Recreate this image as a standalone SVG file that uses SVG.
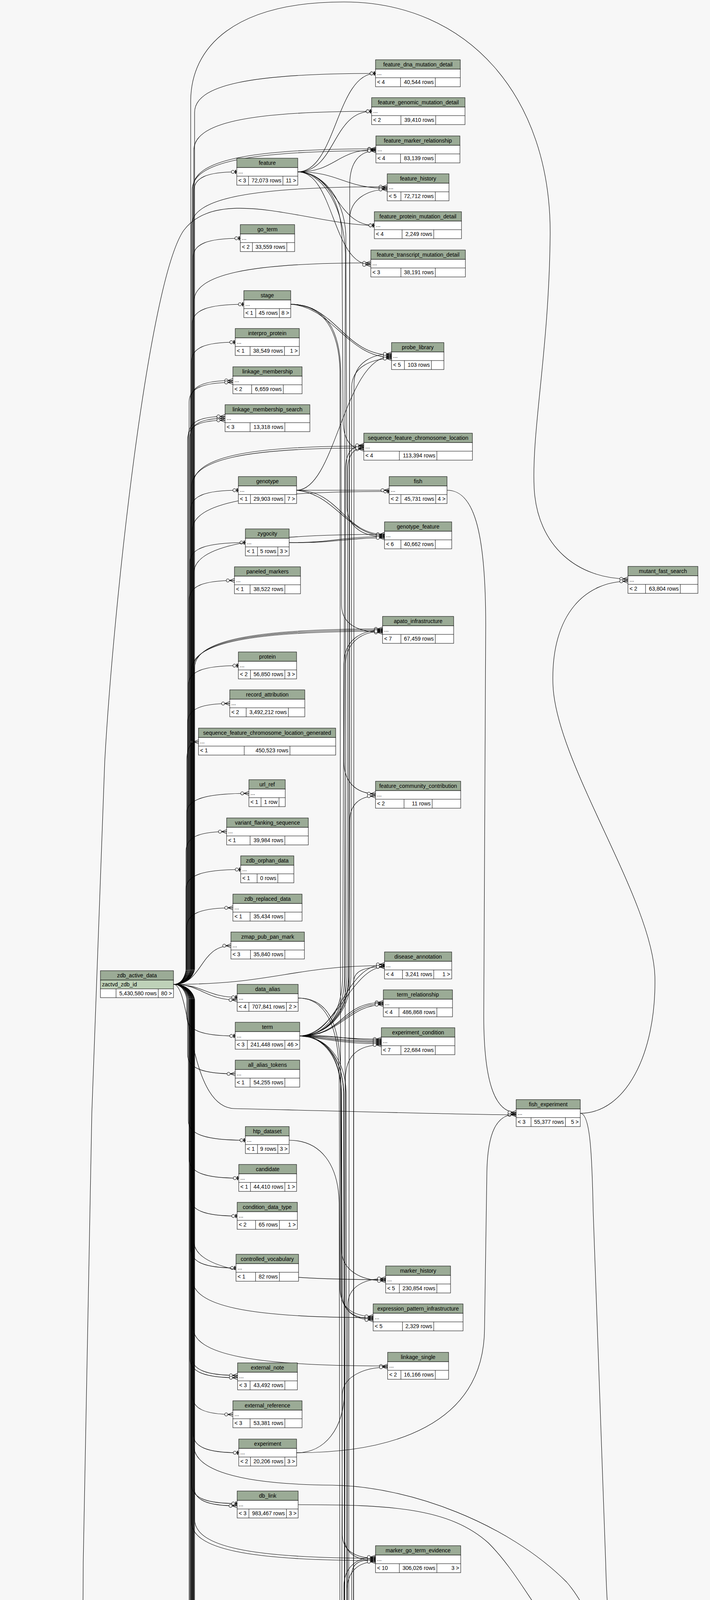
<svg xmlns="http://www.w3.org/2000/svg" width="1817" height="7109" viewBox="0 0 1817 7109">
<style>
text{font-family:"Liberation Sans",Arial,Helvetica,sans-serif;font-size:14px;fill:#000}
.c{text-anchor:middle}
.e{text-anchor:end}
.h{fill:#9bab96;stroke:#000;stroke-width:1}
.b{fill:#fff;stroke:#000;stroke-width:1}
.k{fill:#bed1b8;stroke:#000;stroke-width:1}
.x{fill:#f4f7da;stroke:#000;stroke-width:1}
.s{fill:none;stroke:#000;stroke-width:1}
#connectors path{fill:none;stroke:#000;stroke-width:1.1}
#connectors .m{marker-end:url(#mm)}
#connectors .o{marker-end:url(#mo)}
</style>
<defs>
<marker id="mm" viewBox="-22 -8 24 16" refX="0" refY="0" markerWidth="24" markerHeight="16" markerUnits="userSpaceOnUse" orient="auto"><circle cx="-17" cy="0" r="4" fill="#f7f7f7" stroke="#000" stroke-width="1.1"/><path d="M-13,0L0,-5M-13,0H0M-13,0L0,5" fill="none" stroke="#000" stroke-width="1.1"/></marker>
<marker id="mo" viewBox="-16 -8 18 16" refX="0" refY="0" markerWidth="18" markerHeight="16" markerUnits="userSpaceOnUse" orient="auto"><circle cx="-10" cy="0" r="4" fill="#f7f7f7" stroke="#000" stroke-width="1.1"/><path d="M-6,0H0" stroke="#000" stroke-width="1.1"/><path d="M-3,-5V5" stroke="#000" stroke-width="2.6"/></marker>
</defs>
<rect width="1817" height="7109" fill="#f7f7f7"/>
<g id="connectors">
<path class="o" d="M444,2520c42,0 52,-32 52,-40V490c0,-35 33,-50 110,-50"/>
<path class="o" d="M444,2520c40,0 50,-32 50,-40V660c0,-35 36,-50 121,-50"/>
<path class="o" d="M444,2520c38,0 48,-32 48,-40V829c0,-35 40,-50 132,-50"/>
<path class="o" d="M444,2520c37,0 46,-32 46,-40V926c0,-35 34,-50 112,-50"/>
<path class="m" d="M444,2520c35,0 44,-32 44,-40V1024c0,-35 32,-50 108,-50"/>
<path class="m" d="M444,2520c32,0 40,-32 40,-40V1029c0,-35 34,-50 112,-50"/>
<path class="m" d="M444,2520c34,0 42,-32 42,-40V1121c0,-35 27,-50 90,-50"/>
<path class="m" d="M444,2520c30,0 38,-32 38,-40V1116c0,-35 28,-50 94,-50"/>
<path class="m" d="M444,2520c29,0 36,-32 36,-40V1126c0,-35 29,-50 96,-50"/>
<path class="o" d="M444,2520c35,0 44,-32 44,-40V1305c0,-35 37,-50 122,-50"/>
<path class="o" d="M444,2520c34,0 42,-32 42,-40V1439c0,-35 43,-50 142,-50"/>
<path class="m" d="M444,2520c32,0 40,-32 40,-40V1536c0,-35 35,-50 116,-50"/>
<path class="o" d="M444,2520c30,0 38,-32 38,-40V1754c0,-35 38,-50 128,-50"/>
<path class="m" d="M444,2520c29,0 36,-32 36,-40V1851c0,-35 32,-50 108,-50"/>
<path class="m" d="M444,2520c27,0 34,-32 34,-40V1949c0,-35 9,-50 30,-50"/>
<path class="m" d="M444,2520c27,0 34,-32 34,-40V2081c0,-35 48,-50 159,-50"/>
<path class="m" d="M444,2520c26,0 32,-32 32,-40V2179c0,-35 31,-50 104,-50"/>
<path class="o" d="M444,2520c26,0 32,-32 32,-40V2276c0,-35 42,-50 140,-50"/>
<path class="m" d="M444,2520c27,0 34,-32 34,-40V2374c0,-35 35,-50 118,-50"/>
<path class="m" d="M444,2520C520,2520 510,2421 591,2421"/>
<path class="o" d="M444,2520C520,2520 530,2553 607,2553"/>
<path class="m" d="M444,2520C515,2520 525,2560 607,2560"/>
<path class="o" d="M444,2520c27,0 34,32 34,40V2602c0,35 37,50 124,50"/>
<path class="m" d="M444,2520c29,0 36,32 36,40V2699c0,35 37,50 122,50"/>
<path class="o" d="M444,2520c30,0 38,32 38,40V2869c0,35 44,50 146,50"/>
<path class="o" d="M444,2520c32,0 40,32 40,40V2966c0,35 38,50 127,50"/>
<path class="o" d="M444,2520c34,0 42,32 42,40V3063c0,35 36,50 121,50"/>
<path class="o" d="M444,2520c35,0 44,32 44,40V3196c0,35 35,50 116,50"/>
<path class="m" d="M444,2520c37,0 46,32 46,40V3471c0,35 35,50 118,50"/>
<path class="m" d="M444,2520c34,0 42,32 42,40V3477c0,35 37,50 122,50"/>
<path class="m" d="M444,2520c38,0 48,32 48,40V3571c0,35 31,50 104,50"/>
<path class="o" d="M444,2520c40,0 50,32 50,40V3669c0,35 35,50 117,50"/>
<path class="o" d="M444,2520c37,0 46,32 46,40V3799c0,35 35,50 117,50"/>
<path class="m" d="M444,2520c42,0 52,32 52,40V3805c0,35 33,50 111,50"/>
<path class="m" d="M444,2520c38,0 48,32 48,40V4115c0,35 32,50 107,50"/>
<path class="m" d="M444,2520c35,0 44,32 44,40V4213c0,35 34,50 114,50"/>
<path class="m" d="M444,2520c40,0 50,32 50,40V4307c0,35 37,50 122,50"/>
<path class="m" d="M444,2520c37,0 46,32 46,40V4407c0,35 33,50 110,50"/>
<path class="o" d="M444,2520c34,0 42,32 42,40V4502c0,35 38,50 125,50"/>
<path class="o" d="M444,2520c42,0 52,32 52,40V4599c0,35 33,50 111,50"/>
<path class="o" d="M444,2520c32,0 40,32 40,40V4696c0,35 38,50 127,50"/>
<path class="o" d="M444,2520c38,0 48,32 48,40V5015c0,35 33,50 110,50"/>
<path class="o" d="M444,2520c35,0 44,32 44,40V5112c0,35 38,50 126,50"/>
<path class="o" d="M444,2520c43,0 54,-32 54,-40V288c0,-70 139,-100 463,-100"/>
<path class="o" d="M444,2520c42,0 52,-32 52,-40V385c0,-70 137,-100 455,-100"/>
<path class="m" d="M444,2520c40,0 50,-32 50,-40V481c0,-70 140,-100 468,-100"/>
<path class="m" d="M444,2520c38,0 48,-32 48,-40V486c0,-70 141,-100 470,-100"/>
<path class="m" d="M444,2520c37,0 46,-32 46,-40V578c0,-70 150,-100 501,-100"/>
<path class="m" d="M444,2520c42,0 52,-32 52,-40V773c0,-70 136,-100 453,-100"/>
<path class="m" d="M444,2520c40,0 50,-32 50,-40V1242c0,-70 131,-100 437,-100"/>
<path class="m" d="M444,2520c37,0 46,-32 46,-40V1247c0,-70 132,-100 441,-100"/>
<path class="o" d="M444,2520c38,0 48,-32 48,-40V1358c0,-70 151,-100 504,-100"/>
<path class="m" d="M444,2520c42,0 52,-32 52,-40V1468c0,-70 146,-100 488,-100"/>
<path class="m" d="M444,2520c43,0 54,-32 54,-40V1710c0,-70 144,-100 481,-100"/>
<path class="m" d="M444,2520c40,0 50,-32 50,-40V1713c0,-70 146,-100 485,-100"/>
<path class="m" d="M444,2520c37,0 46,-32 46,-40V1716c0,-70 147,-100 489,-100"/>
<path class="o" d="M444,2520C700,2520 750,2472 984,2472"/>
<path class="m" d="M444,2520c42,0 52,32 52,40V3176c0,70 147,100 491,100"/>
<path class="m" d="M444,2520c38,0 48,32 48,40V3273c0,70 139,100 463,100"/>
<path class="m" d="M444,2520c40,0 50,32 50,40V3397c0,70 149,100 498,100"/>
<path class="m" d="M444,2520c43,0 54,32 54,40V3889c0,70 139,100 463,100"/>
<path class="m" d="M444,2520c37,0 46,32 46,40V3895c0,70 141,100 471,100"/>
<path class="m" d="M444,2520c42,0 52,32 52,40V4255c0,70 144,100 480,100"/>
<path class="m" d="M444,2520c38,0 48,32 48,40V4449c0,70 150,100 500,100"/>
<path class="m" d="M444,2520c43,0 54,32 54,40V4583c0,70 138,100 459,100"/>
<path class="m" d="M444,2520c40,0 50,32 50,40V4716c0,70 151,100 502,100"/>
<path class="o" d="M444,2520c42,0 52,32 52,40V4814c0,70 129,100 430,100"/>
<path class="m" d="M444,2520c37,0 46,32 46,40V5004c0,70 156,100 519,100"/>
<path class="m" d="M444,2520c36,0 44,-32 44,-40V260C488,120 600,5 880,5C1200,5 1410,250 1408,600C1405,900 1360,1100 1367,1250C1375,1400 1480,1482 1607,1482"/>
<path class="m" d="M444,2520C490,2520 480,2835 600,2838C900,2845 1200,2854 1321,2854"/>
<path class="m" d="M444,2520c42,0 52,32 52,40V3700C496,3760 600,3800 850,3802C1050,3805 1300,3900 1450,4050C1520,4130 1540,4252 1592,4252"/>
<path class="m" d="M192,4815C420,4815 380,4168 599,4168"/>
<path class="m" d="M192,4815C400,4815 380,4460 600,4460"/>
<path class="m" d="M192,4815C400,4815 400,4655 607,4655"/>
<path class="m" d="M192,4815C500,4830 700,4845 850,4835C920,4830 940,4819 996,4819"/>
<path class="o" d="M192,4815C380,4815 420,5372 569,5372"/>
<path class="o" d="M192,4815C228,4815 236,4850 236,4900L236,5250C236,5290 250,5303 281,5303"/>
<path class="o" d="M192,4815C226,4815 232,4850 232,4900L232,6190C232,6225 245,6237 268,6237"/>
<path class="o" d="M192,4815C230,4815 240,4860 240,4900L240,6720C240,6800 400,6850 615,6850"/>
<path class="o" d="M192,4815C226,4815 236,4860 236,4900L236,6830C236,6950 400,7020 620,7020"/>
<path class="o" d="M192,4815C205,4800 210,4600 213,4000L235,2850L268,1950C290,1550 380,720 470,590C560,470 800,577 958,577"/>
<path class="m" d="M192,4815C420,4815 380,5071 602,5071"/>
<path class="m" d="M192,4815C420,4815 400,5168 614,5168"/>
<path class="m" d="M435,6237c28,0 35,-32 35,-40V5990c0,-35 30,-50 99,-50"/>
<path class="m" d="M435,6237C520,6237 520,6271 602,6271"/>
<path class="m" d="M435,6237c36,0 45,32 45,40V6573c0,35 44,50 148,50"/>
<path class="m" d="M435,6237c44,0 55,32 55,40V6567c0,35 41,50 138,50"/>
<path class="m" d="M435,6237c33,0 41,32 41,40V6670c0,35 44,50 147,50"/>
<path class="m" d="M435,6237c47,0 59,32 59,40V6664c0,35 39,50 129,50"/>
<path class="m" d="M435,6237c39,0 49,32 49,40V6797c0,35 39,50 131,50"/>
<path class="m" d="M435,6237c30,0 37,32 37,40V6803c0,35 43,50 143,50"/>
<path class="m" d="M435,6237c42,0 53,32 53,40V6967c0,35 40,50 132,50"/>
<path class="m" d="M435,6237c31,0 39,32 39,40V6973c0,35 44,50 146,50"/>
<path class="o" d="M435,6237c34,0 43,-32 43,-40V4969c0,-35 39,-50 130,-50"/>
<path class="m" d="M435,6237c38,0 47,-32 47,-40V4413c0,-35 40,-50 134,-50"/>
<path class="m" d="M435,6237c41,0 51,-32 51,-40V4608c0,-35 38,-50 125,-50"/>
<path class="m" d="M435,6237c36,0 45,-32 45,-40V4802c0,-35 39,-50 131,-50"/>
<path class="m" d="M435,6237C490,6237 490,6090 560,6090L835,6090c40,0 50,-20 50,-50V5020c0,-42 12,-60 41,-60"/>
<path class="m" d="M435,6237C490,6237 490,6095 560,6095L840,6095c40,0 50,-20 50,-50V4873c0,-42 32,-60 106,-60"/>
<path class="m" d="M435,6237C490,6237 490,6100 560,6100L845,6100c40,0 50,-20 50,-50V4879c0,-42 30,-60 101,-60"/>
<path class="m" d="M435,6237C490,6237 490,6105 560,6105L850,6105c40,0 50,-20 50,-50V5170c0,-42 33,-60 109,-60"/>
<path class="m" d="M435,6237C490,6237 490,6110 560,6110L855,6110c40,0 50,-20 50,-50V5472c0,-42 28,-60 95,-60"/>
<path class="m" d="M435,6237C490,6237 490,6115 560,6115L860,6115c40,0 50,-20 50,-50V5952c0,-42 19,-60 63,-60"/>
<path class="m" d="M435,6237C490,6237 490,6120 560,6120L862,6120c40,0 50,-20 50,-50V5958c0,-42 18,-60 61,-60"/>
<path class="m" d="M435,6237C490,6237 490,6125 560,6125L840,6125C900,6125 910,5993 973,5993"/>
<path class="m" d="M435,6237C490,6237 490,6130 560,6130L840,6130C900,6130 910,6091 972,6091"/>
<path class="m" d="M435,6237C490,6237 490,6160 560,6160L840,6160C890,6160 900,6184 954,6184"/>
<path class="m" d="M435,6237C490,6237 500,6200 580,6200L840,6200C890,6200 900,6190 954,6190"/>
<path class="m" d="M435,6237C480,6237 480,6330 560,6330L840,6330C900,6330 900,6285 954,6285"/>
<path class="m" d="M435,6237C480,6237 480,6360 560,6360L850,6360C920,6360 920,6383 989,6383"/>
<path class="m" d="M435,6237C480,6237 480,6420 560,6420L820,6420C880,6420 880,6480 945,6480"/>
<path class="m" d="M435,6237C480,6237 480,6450 560,6460L800,6500C880,6520 880,6577 954,6577"/>
<path class="m" d="M435,6237C470,6237 470,6500 500,6600C540,6760 700,6790 850,6770C900,6760 910,6725 954,6725"/>
<path class="m" d="M435,6237C520,6237 560,6450 700,6530C850,6620 1000,6650 1100,6650C1200,6650 1230,6642 1281,6642"/>
<path class="m" d="M435,6237C470,6237 480,6500 490,6700C500,6880 600,6930 800,6925C1050,6918 1200,6900 1240,6860C1260,6840 1270,6828 1293,6828"/>
<path class="m" d="M435,6237C470,6237 470,6400 480,6500C500,6700 560,6760 700,6780C850,6800 900,6836 995,6836"/>
<path class="m" d="M435,6237C465,6237 470,6500 475,6800C480,6950 600,6960 800,6965C900,6968 920,7003 987,7003"/>
<path class="m" d="M800,5372c64,0 80,-32 80,-40V5280c0,-28 24,-40 79,-40"/>
<path class="m" d="M800,5372c56,0 70,-32 70,-40V4977c0,-28 17,-40 56,-40"/>
<path class="m" d="M800,5372c68,0 85,-32 85,-40V4856c0,-28 33,-40 111,-40"/>
<path class="m" d="M800,5372c72,0 90,-32 90,-40V5144c0,-28 36,-40 119,-40"/>
<path class="m" d="M800,5372c76,0 95,-32 95,-40V4297c0,-28 27,-40 90,-40"/>
<path class="m" d="M800,5372c80,0 100,-32 100,-40V4032c0,-28 18,-40 61,-40"/>
<path class="m" d="M800,5372c84,0 105,-32 105,-40V2515c0,-28 24,-40 79,-40"/>
<path class="m" d="M800,5372c60,0 74,-32 74,-40V5060C874,5030 900,5050 1200,5045C1260,5040 1270,4995 1316,4995"/>
<path class="m" d="M800,5372C900,5350 1000,5330 1150,5320C1300,5300 1480,5200 1530,5000L1548,4350C1552,4280 1565,4252 1592,4252"/>
<path class="m" d="M800,5372C900,5352 1000,5335 1150,5335C1230,5335 1240,5400 1243,5500L1245,6550C1246,6620 1260,6642 1281,6642"/>
<path class="m" d="M800,5372C900,5372 900,5409 1000,5409"/>
<path class="o" d="M800,5372c48,0 60,32 60,40V5466c0,28 42,40 139,40"/>
<path class="m" d="M800,5372c52,0 65,32 65,40V5563c0,28 37,40 122,40"/>
<path class="m" d="M800,5372c56,0 70,32 70,40V5661c0,28 39,40 129,40"/>
<path class="m" d="M800,5372c60,0 75,32 75,40V5759c0,28 35,40 116,40"/>
<path class="m" d="M800,5372c64,0 80,32 80,40V5855c0,28 28,40 93,40"/>
<path class="m" d="M800,5372c68,0 85,32 85,40V5953c0,28 26,40 88,40"/>
<path class="m" d="M800,5372c72,0 90,32 90,40V6051c0,28 25,40 82,40"/>
<path class="m" d="M800,5372c76,0 95,32 95,40V6147c0,28 18,40 59,40"/>
<path class="m" d="M800,5372c80,0 100,32 100,40V6245c0,28 16,40 54,40"/>
<path class="m" d="M800,5372c84,0 105,32 105,40V6340c0,28 25,40 84,40"/>
<path class="m" d="M800,5372c70,0 88,32 88,40V6440c0,28 17,40 57,40"/>
<path class="m" d="M800,5372c78,0 98,32 98,40V6534c0,28 17,40 56,40"/>
<path class="m" d="M800,5372c82,0 102,32 102,40V6682c0,28 16,40 52,40"/>
<path class="m" d="M421,5303C470,5303 494,5330 494,5400L494,5630C494,5670 520,5688 569,5688"/>
<path class="o" d="M762,440C860,440 860,188 961,188"/>
<path class="o" d="M762,440C860,440 850,285 951,285"/>
<path class="m" d="M762,440C860,440 860,383 962,383"/>
<path class="m" d="M762,440C870,440 880,482 991,482"/>
<path class="o" d="M762,440C860,440 860,577 958,577"/>
<path class="m" d="M762,440C855,440 850,678 949,678"/>
<path class="m" d="M762,440C820,440 880,500 885,600L888,1300C890,1350 930,1374 984,1374"/>
<path class="m" d="M762,440C820,440 880,520 884,650L880,1950C880,2000 910,2032 961,2032"/>
<path class="m" d="M762,440C820,440 870,500 875,600L878,1080C880,1130 900,1150 931,1150"/>
<path class="m" d="M744,779C860,779 880,909 1002,909"/>
<path class="m" d="M744,779C850,785 890,915 1002,915"/>
<path class="m" d="M744,779C830,779 870,840 872,950L874,1550C875,1600 920,1619 979,1619"/>
<path class="m" d="M744,779C830,779 868,850 870,950L872,3300C872,3350 900,3376 955,3376"/>
<path class="m" d="M759,1255C860,1255 880,912 1002,912"/>
<path class="m" d="M759,1255L996,1255"/>
<path class="m" d="M759,1255C870,1255 880,1368 984,1368"/>
<path class="m" d="M759,1255C860,1265 890,1371 984,1371"/>
<path class="m" d="M740,1389C860,1389 870,1374 984,1374"/>
<path class="m" d="M740,1389C860,1391 880,1377 984,1377"/>
<path class="m" d="M763,2555C840,2555 870,2620 872,2750L874,3200C875,3250 920,3279 987,3279"/>
<path class="m" d="M763,2555C830,2555 866,2620 868,2750L870,3300C871,3345 900,3370 955,3370"/>
<path class="m" d="M767,2652C880,2652 870,2566 981,2566"/>
<path class="m" d="M767,2652C880,2650 880,2569 981,2569"/>
<path class="m" d="M767,2652C870,2655 890,2572 981,2572"/>
<path class="m" d="M767,2652C870,2652 870,2660 976,2660"/>
<path class="m" d="M767,2652C870,2648 880,2663 976,2663"/>
<path class="m" d="M767,2652C870,2656 880,2666 976,2666"/>
<path class="m" d="M767,2652C860,2660 890,2669 976,2669"/>
<path class="m" d="M767,2652C860,2664 890,2672 976,2672"/>
<path class="m" d="M767,2652C870,2652 880,2469 984,2469"/>
<path class="m" d="M767,2652C860,2650 900,2475 984,2475"/>
<path class="m" d="M767,2652C830,2652 875,2600 877,2500L880,1700C881,1640 920,1613 979,1613"/>
<path class="m" d="M767,2652C835,2652 880,2600 882,2500L884,1700C885,1645 925,1616 979,1616"/>
<path class="m" d="M767,2652C835,2652 872,2710 874,2800L876,3310C877,3355 905,3379 955,3379"/>
<path class="m" d="M767,2652C830,2652 878,2710 880,2800L882,4480C883,4530 930,4546 992,4546"/>
<path class="m" d="M767,2652C835,2652 884,2710 886,2800L888,4490C889,4535 935,4552 992,4552"/>
<path class="m" d="M767,2652C830,2652 872,2710 873,2800L876,3930C877,3970 910,3989 961,3989"/>
<path class="m" d="M767,2652C835,2652 878,2710 879,2800L882,3940C883,3978 915,3995 961,3995"/>
<path class="m" d="M767,2652C830,2652 890,2600 892,2500L895,560C896,510 940,485 991,485"/>
<path class="m" d="M767,2652C830,2652 896,2600 898,2500L900,990C901,940 950,918 1002,918"/>
<path class="m" d="M767,2652C830,2652 886,2600 888,2500L890,1200C891,1165 905,1147 931,1147"/>
<path class="m" d="M767,2652C830,2652 892,2600 893,2500L895,2100C896,2060 920,2038 961,2038"/>
<path class="m" d="M759,3719C830,3719 880,3660 882,3560L884,2760C885,2700 920,2675 976,2675"/>
<path class="m" d="M759,3719C1000,3719 1239,3650 1240,3400L1246,3000C1248,2900 1270,2852 1321,2852"/>
<path class="m" d="M767,5068C840,5068 890,5000 892,4900L895,470C896,415 920,386 962,386"/>
<path class="m" d="M767,5068C840,5068 902,5000 904,4900L906,980C907,930 950,906 1002,906"/>
<path class="m" d="M767,5068C840,5068 880,5000 882,4900L884,1200C885,1160 900,1140 931,1140"/>
<path class="m" d="M767,5068C840,5068 886,5000 888,4900L890,3340C891,3295 930,3273 987,3273"/>
<path class="m" d="M767,5068C840,5068 876,5000 878,4900L880,4060C881,4015 910,3986 961,3986"/>
<path class="m" d="M767,5068C845,5068 884,5000 886,4900L888,4070C889,4025 915,3998 961,3998"/>
<path class="m" d="M767,5068C840,5068 894,5000 896,4900L898,4230C899,4185 940,4160 996,4160"/>
<path class="m" d="M767,5068C840,5068 870,5000 872,4900L874,4420C875,4375 920,4352 976,4352"/>
<path class="m" d="M767,5068C845,5068 878,5000 880,4900L882,4425C883,4380 925,4358 976,4358"/>
<path class="m" d="M767,5068C840,5068 890,5000 891,4900L893,4510C894,4470 930,4452 976,4452"/>
<path class="m" d="M767,5068C840,5068 870,4990 872,4900L874,4740C875,4705 910,4686 957,4686"/>
<path class="m" d="M767,5068C850,5068 870,4760 1000,4737C1250,4700 1450,4600 1520,4400C1550,4300 1560,4249 1592,4249"/>
<path class="m" d="M767,5068C880,5068 900,5110 1009,5110"/>
<path class="m" d="M754,5165C830,5165 872,5100 874,5000L876,4520C877,4475 920,4455 976,4455"/>
<path class="m" d="M754,5165C830,5165 866,5100 868,5000L870,4740C871,4700 905,4680 957,4680"/>
<path class="m" d="M762,4652C880,4652 880,4549 992,4549"/>
<path class="m" d="M762,4652C850,4652 880,4620 1000,4615C1200,4610 1400,4500 1500,4350C1540,4280 1560,4258 1592,4258"/>
<path class="m" d="M759,4555C830,4555 872,4500 874,4400L876,3570C877,3525 930,3500 992,3500"/>
<path class="m" d="M740,2919C820,2919 866,2980 868,3080L870,4190C871,4235 930,4260 985,4260"/>
<path class="m" d="M754,6850C880,6850 880,6839 995,6839"/>
<path class="m" d="M754,6850C850,6850 880,6780 900,6680C915,6610 930,6580 954,6580"/>
<path class="m" d="M748,7020C870,7020 870,7006 987,7006"/>
<path class="m" d="M1185,6725C1240,6725 1240,6645 1281,6645"/>
<path class="m" d="M1185,6725C1250,6725 1240,6831 1293,6831"/>
<path class="m" d="M1144,1255C1210,1255 1243,1350 1243,1600L1238,2600C1238,2780 1270,2848 1321,2848"/>
<path class="m" d="M1485,2850C1600,2850 1680,2700 1676,2500C1670,2300 1420,1950 1415,1750C1410,1570 1500,1488 1607,1488"/>
<path class="m" d="M1485,2850C1510,2850 1515,2950 1518,3100L1550,4000C1555,4200 1570,4246 1592,4246"/>
<path class="m" d="M1144,4160C1200,4160 1243,4250 1243,4400L1243,4900C1243,4965 1270,4992 1316,4992"/>
<path class="m" d="M763,3852C1000,3852 1150,3860 1250,3950C1350,4050 1400,4200 1500,4240C1540,4252 1560,4252 1592,4252"/>
</g>
<g id="nodes">
<g id="feature" transform="translate(606,405)"><rect class="h" width="156" height="24"/><rect class="b" y="24" width="156" height="45"/><path class="s" d="M0,46h156M30,46v23M118,46v23"/><text class="c" x="78" y="16.5">feature</text><text x="4" y="39">...</text><text x="4" y="62">&lt; 3</text><text class="e" x="114" y="62">72,073 rows</text><text class="e" x="152" y="62">11 &gt;</text></g>
<g id="go_term" transform="translate(615,575)"><rect class="h" width="139" height="24"/><rect class="b" y="24" width="139" height="45"/><path class="s" d="M0,46h139M31,46v23M119,46v23"/><text class="c" x="69.5" y="16.5">go_term</text><text x="4" y="39">...</text><text x="4" y="62">&lt; 2</text><text class="e" x="115" y="62">33,559 rows</text></g>
<g id="stage" transform="translate(624,744)"><rect class="h" width="120" height="24"/><rect class="b" y="24" width="120" height="45"/><path class="s" d="M0,46h120M30.5,46v23M91,46v23"/><text class="c" x="60" y="16.5">stage</text><text x="4" y="39">...</text><text x="4" y="62">&lt; 1</text><text class="e" x="87" y="62">45 rows</text><text class="e" x="116" y="62">8 &gt;</text></g>
<g id="interpro_protein" transform="translate(602,841)"><rect class="h" width="164" height="24"/><rect class="b" y="24" width="164" height="45"/><path class="s" d="M0,46h164M38,46v23M126,46v23"/><text class="c" x="82" y="16.5">interpro_protein</text><text x="4" y="39">...</text><text x="4" y="62">&lt; 1</text><text class="e" x="122" y="62">38,549 rows</text><text class="e" x="160" y="62">1 &gt;</text></g>
<g id="linkage_membership" transform="translate(596,939)"><rect class="h" width="177" height="24"/><rect class="b" y="24" width="177" height="45"/><path class="s" d="M0,46h177M48,46v23M129,46v23"/><text class="c" x="88.5" y="16.5">linkage_membership</text><text x="4" y="39">...</text><text x="4" y="62">&lt; 2</text><text class="e" x="125" y="62">6,659 rows</text></g>
<g id="linkage_membership_search" transform="translate(576,1036)"><rect class="h" width="217" height="24"/><rect class="b" y="24" width="217" height="45"/><path class="s" d="M0,46h217M64,46v23M153,46v23"/><text class="c" x="108.5" y="16.5">linkage_membership_search</text><text x="4" y="39">...</text><text x="4" y="62">&lt; 3</text><text class="e" x="149" y="62">13,318 rows</text></g>
<g id="genotype" transform="translate(610,1220)"><rect class="h" width="149" height="24"/><rect class="b" y="24" width="149" height="45"/><path class="s" d="M0,46h149M31,46v23M119,46v23"/><text class="c" x="74.5" y="16.5">genotype</text><text x="4" y="39">...</text><text x="4" y="62">&lt; 1</text><text class="e" x="115" y="62">29,903 rows</text><text class="e" x="145" y="62">7 &gt;</text></g>
<g id="zygocity" transform="translate(628,1354)"><rect class="h" width="112" height="24"/><rect class="b" y="24" width="112" height="45"/><path class="s" d="M0,46h112M31,46v23M83,46v23"/><text class="c" x="56" y="16.5">zygocity</text><text x="4" y="39">...</text><text x="4" y="62">&lt; 1</text><text class="e" x="79" y="62">5 rows</text><text class="e" x="108" y="62">3 &gt;</text></g>
<g id="paneled_markers" transform="translate(600,1451)"><rect class="h" width="169" height="24"/><rect class="b" y="24" width="169" height="45"/><path class="s" d="M0,46h169M40,46v23M129,46v23"/><text class="c" x="84.5" y="16.5">paneled_markers</text><text x="4" y="39">...</text><text x="4" y="62">&lt; 1</text><text class="e" x="125" y="62">38,522 rows</text></g>
<g id="protein" transform="translate(610,1669)"><rect class="h" width="149" height="24"/><rect class="b" y="24" width="149" height="45"/><path class="s" d="M0,46h149M31,46v23M119,46v23"/><text class="c" x="74.5" y="16.5">protein</text><text x="4" y="39">...</text><text x="4" y="62">&lt; 2</text><text class="e" x="115" y="62">56,850 rows</text><text class="e" x="145" y="62">3 &gt;</text></g>
<g id="record_attribution" transform="translate(588,1766)"><rect class="h" width="192" height="24"/><rect class="b" y="24" width="192" height="45"/><path class="s" d="M0,46h192M42,46v23M150,46v23"/><text class="c" x="96" y="16.5">record_attribution</text><text x="4" y="39">...</text><text x="4" y="62">&lt; 2</text><text class="e" x="146" y="62">3,492,212 rows</text></g>
<g id="sequence_feature_chromosome_location_generated" transform="translate(508,1864)"><rect class="h" width="351" height="24"/><rect class="b" y="24" width="351" height="45"/><path class="s" d="M0,46h351M117,46v23M234,46v23"/><text class="c" x="175.5" y="16.5">sequence_feature_chromosome_location_generated</text><text x="4" y="39">...</text><text x="4" y="62">&lt; 1</text><text class="e" x="230" y="62">450,523 rows</text></g>
<g id="url_ref" transform="translate(637,1996)"><rect class="h" width="93" height="24"/><rect class="b" y="24" width="93" height="45"/><path class="s" d="M0,46h93M31,46v23M77,46v23"/><text class="c" x="46.5" y="16.5">url_ref</text><text x="4" y="39">...</text><text x="4" y="62">&lt; 1</text><text class="e" x="73" y="62">1 row</text></g>
<g id="variant_flanking_sequence" transform="translate(580,2094)"><rect class="h" width="209" height="24"/><rect class="b" y="24" width="209" height="45"/><path class="s" d="M0,46h209M60,46v23M149,46v23"/><text class="c" x="104.5" y="16.5">variant_flanking_sequence</text><text x="4" y="39">...</text><text x="4" y="62">&lt; 1</text><text class="e" x="145" y="62">39,984 rows</text></g>
<g id="zdb_orphan_data" transform="translate(616,2191)"><rect class="h" width="136" height="24"/><rect class="b" y="24" width="136" height="45"/><path class="s" d="M0,46h136M42,46v23M95,46v23"/><text class="c" x="68" y="16.5">zdb_orphan_data</text><text x="4" y="39">...</text><text x="4" y="62">&lt; 1</text><text class="e" x="91" y="62">0 rows</text></g>
<g id="zdb_replaced_data" transform="translate(596,2289)"><rect class="h" width="177" height="24"/><rect class="b" y="24" width="177" height="45"/><path class="s" d="M0,46h177M44,46v23M133,46v23"/><text class="c" x="88.5" y="16.5">zdb_replaced_data</text><text x="4" y="39">...</text><text x="4" y="62">&lt; 1</text><text class="e" x="129" y="62">35,434 rows</text></g>
<g id="zmap_pub_pan_mark" transform="translate(591,2386)"><rect class="h" width="188" height="24"/><rect class="b" y="24" width="188" height="45"/><path class="s" d="M0,46h188M50,46v23M138,46v23"/><text class="c" x="94" y="16.5">zmap_pub_pan_mark</text><text x="4" y="39">...</text><text x="4" y="62">&lt; 3</text><text class="e" x="134" y="62">35,840 rows</text></g>
<g id="data_alias" transform="translate(607,2520)"><rect class="h" width="156" height="24"/><rect class="b" y="24" width="156" height="45"/><path class="s" d="M0,46h156M30,46v23M126,46v23"/><text class="c" x="78" y="16.5">data_alias</text><text x="4" y="39">...</text><text x="4" y="62">&lt; 4</text><text class="e" x="122" y="62">707,841 rows</text><text class="e" x="152" y="62">2 &gt;</text></g>
<g id="term" transform="translate(602,2617)"><rect class="h" width="165" height="24"/><rect class="b" y="24" width="165" height="45"/><path class="s" d="M0,46h165M31,46v23M127,46v23"/><text class="c" x="82.5" y="16.5">term</text><text x="4" y="39">...</text><text x="4" y="62">&lt; 3</text><text class="e" x="123" y="62">241,448 rows</text><text class="e" x="161" y="62">46 &gt;</text></g>
<g id="all_alias_tokens" transform="translate(602,2714)"><rect class="h" width="165" height="24"/><rect class="b" y="24" width="165" height="45"/><path class="s" d="M0,46h165M38,46v23M127,46v23"/><text class="c" x="82.5" y="16.5">all_alias_tokens</text><text x="4" y="39">...</text><text x="4" y="62">&lt; 1</text><text class="e" x="123" y="62">54,255 rows</text></g>
<g id="htp_dataset" transform="translate(628,2884)"><rect class="h" width="112" height="24"/><rect class="b" y="24" width="112" height="45"/><path class="s" d="M0,46h112M31,46v23M83,46v23"/><text class="c" x="56" y="16.5">htp_dataset</text><text x="4" y="39">...</text><text x="4" y="62">&lt; 1</text><text class="e" x="79" y="62">9 rows</text><text class="e" x="108" y="62">3 &gt;</text></g>
<g id="candidate" transform="translate(611,2981)"><rect class="h" width="148" height="24"/><rect class="b" y="24" width="148" height="45"/><path class="s" d="M0,46h148M30,46v23M118,46v23"/><text class="c" x="74" y="16.5">candidate</text><text x="4" y="39">...</text><text x="4" y="62">&lt; 1</text><text class="e" x="114" y="62">44,410 rows</text><text class="e" x="144" y="62">1 &gt;</text></g>
<g id="condition_data_type" transform="translate(607,3078)"><rect class="h" width="154" height="24"/><rect class="b" y="24" width="154" height="45"/><path class="s" d="M0,46h154M47,46v23M108,46v23"/><text class="c" x="77" y="16.5">condition_data_type</text><text x="4" y="39">...</text><text x="4" y="62">&lt; 2</text><text class="e" x="104" y="62">65 rows</text><text class="e" x="150" y="62">1 &gt;</text></g>
<g id="controlled_vocabulary" transform="translate(604,3211)"><rect class="h" width="160" height="24"/><rect class="b" y="24" width="160" height="45"/><path class="s" d="M0,46h160M50,46v23M111,46v23"/><text class="c" x="80" y="16.5">controlled_vocabulary</text><text x="4" y="39">...</text><text x="4" y="62">&lt; 1</text><text class="e" x="107" y="62">82 rows</text></g>
<g id="external_note" transform="translate(608,3489)"><rect class="h" width="153" height="24"/><rect class="b" y="24" width="153" height="45"/><path class="s" d="M0,46h153M32,46v23M121,46v23"/><text class="c" x="76.5" y="16.5">external_note</text><text x="4" y="39">...</text><text x="4" y="62">&lt; 3</text><text class="e" x="117" y="62">43,492 rows</text></g>
<g id="external_reference" transform="translate(596,3586)"><rect class="h" width="177" height="24"/><rect class="b" y="24" width="177" height="45"/><path class="s" d="M0,46h177M44,46v23M133,46v23"/><text class="c" x="88.5" y="16.5">external_reference</text><text x="4" y="39">...</text><text x="4" y="62">&lt; 3</text><text class="e" x="129" y="62">53,381 rows</text></g>
<g id="experiment" transform="translate(611,3684)"><rect class="h" width="148" height="24"/><rect class="b" y="24" width="148" height="45"/><path class="s" d="M0,46h148M30,46v23M118,46v23"/><text class="c" x="74" y="16.5">experiment</text><text x="4" y="39">...</text><text x="4" y="62">&lt; 2</text><text class="e" x="114" y="62">20,206 rows</text><text class="e" x="144" y="62">3 &gt;</text></g>
<g id="db_link" transform="translate(607,3817)"><rect class="h" width="156" height="24"/><rect class="b" y="24" width="156" height="45"/><path class="s" d="M0,46h156M30,46v23M126,46v23"/><text class="c" x="78" y="16.5">db_link</text><text x="4" y="39">...</text><text x="4" y="62">&lt; 3</text><text class="e" x="122" y="62">983,467 rows</text><text class="e" x="152" y="62">3 &gt;</text></g>
<g id="int_data_source" transform="translate(599,4130)"><rect class="h" width="171" height="24"/><rect class="b" y="24" width="171" height="45"/><path class="s" d="M0,46h171M37,46v23M134,46v23"/><text class="c" x="85.5" y="16.5">int_data_source</text><text x="4" y="39">...</text><text x="4" y="62">&lt; 2</text><text class="e" x="130" y="62">111,743 rows</text></g>
<g id="mapped_marker" transform="translate(602,4228)"><rect class="h" width="166" height="24"/><rect class="b" y="24" width="166" height="45"/><path class="s" d="M0,46h166M39,46v23M127,46v23"/><text class="c" x="83" y="16.5">mapped_marker</text><text x="4" y="39">...</text><text x="4" y="62">&lt; 5</text><text class="e" x="123" y="62">26,973 rows</text></g>
<g id="data_note" transform="translate(616,4325)"><rect class="h" width="136" height="24"/><rect class="b" y="24" width="136" height="45"/><path class="s" d="M0,46h136M31,46v23M111,46v23"/><text class="c" x="68" y="16.5">data_note</text><text x="4" y="39">...</text><text x="4" y="62">&lt; 3</text><text class="e" x="107" y="62">6,983 rows</text></g>
<g id="int_data_supplier" transform="translate(600,4422)"><rect class="h" width="169" height="24"/><rect class="b" y="24" width="169" height="45"/><path class="s" d="M0,46h169M40,46v23M129,46v23"/><text class="c" x="84.5" y="16.5">int_data_supplier</text><text x="4" y="39">...</text><text x="4" y="62">&lt; 2</text><text class="e" x="125" y="62">86,342 rows</text></g>
<g id="linkage" transform="translate(611,4520)"><rect class="h" width="148" height="24"/><rect class="b" y="24" width="148" height="45"/><path class="s" d="M0,46h148M30,46v23M118,46v23"/><text class="c" x="74" y="16.5">linkage</text><text x="4" y="39">...</text><text x="4" y="62">&lt; 3</text><text class="e" x="114" y="62">15,143 rows</text><text class="e" x="144" y="62">1 &gt;</text></g>
<g id="figure" transform="translate(607,4617)"><rect class="h" width="155" height="24"/><rect class="b" y="24" width="155" height="45"/><path class="s" d="M0,46h155M30,46v23M126,46v23"/><text class="c" x="77.5" y="16.5">figure</text><text x="4" y="39">...</text><text x="4" y="62">&lt; 2</text><text class="e" x="122" y="62">128,304 rows</text><text class="e" x="151" y="62">4 &gt;</text></g>
<g id="linkage_old" transform="translate(611,4714)"><rect class="h" width="148" height="24"/><rect class="b" y="24" width="148" height="45"/><path class="s" d="M0,46h148M30,46v23M118,46v23"/><text class="c" x="74" y="16.5">linkage_old</text><text x="4" y="39">...</text><text x="4" y="62">&lt; 3</text><text class="e" x="114" y="62">15,143 rows</text><text class="e" x="144" y="62">2 &gt;</text></g>
<g id="zdb_submitters" transform="translate(608,4884)"><rect class="h" width="153" height="24"/><rect class="b" y="24" width="153" height="45"/><path class="s" d="M0,46h153M36,46v23M116,46v23"/><text class="c" x="76.5" y="16.5">zdb_submitters</text><text x="4" y="39">...</text><text x="4" y="62">&lt; 1</text><text class="e" x="112" y="62">9,587 rows</text><text class="e" x="149" y="62">1 &gt;</text></g>
<g id="marker" transform="translate(602,5033)"><rect class="h" width="165" height="24"/><rect class="b" y="24" width="165" height="45"/><path class="s" d="M0,46h165M30,46v23M126,46v23"/><text class="c" x="82.5" y="16.5">marker</text><text x="4" y="39">...</text><text x="4" y="62">&lt; 3</text><text class="e" x="122" y="62">173,681 rows</text><text class="e" x="161" y="62">21 &gt;</text></g>
<g id="construct" transform="translate(614,5130)"><rect class="h" width="140" height="24"/><rect class="b" y="24" width="140" height="45"/><path class="s" d="M0,46h140M31,46v23M111,46v23"/><text class="c" x="70" y="16.5">construct</text><text x="4" y="39">...</text><text x="4" y="62">&lt; 2</text><text class="e" x="107" y="62">6,259 rows</text><text class="e" x="136" y="62">3 &gt;</text></g>
<g id="curator_session" transform="translate(602,6236)"><rect class="h" width="164" height="24"/><rect class="b" y="24" width="164" height="45"/><path class="s" d="M0,46h164M38,46v23M126,46v23"/><text class="c" x="82" y="16.5">curator_session</text><text x="4" y="39">...</text><text x="4" y="62">&lt; 1</text><text class="e" x="122" y="62">49,572 rows</text></g>
<g id="panels" transform="translate(628,6585)"><rect class="h" width="112" height="24"/><rect class="b" y="24" width="112" height="45"/><path class="s" d="M0,46h112M31,46v23M83,46v23"/><text class="c" x="56" y="16.5">panels</text><text x="4" y="39">...</text><text x="4" y="62">&lt; 3</text><text class="e" x="79" y="62">7 rows</text><text class="e" x="108" y="62">1 &gt;</text></g>
<g id="person_author" transform="translate(623,6682)"><rect class="h" width="122" height="24"/><rect class="b" y="24" width="122" height="45"/><path class="s" d="M0,46h122M35,46v23M88,46v23"/><text class="c" x="61" y="16.5">person_author</text><text x="4" y="39">...</text><text x="4" y="62">&lt; 3</text><text class="e" x="84" y="62">0 rows</text></g>
<g id="lab" transform="translate(615,6815)"><rect class="h" width="139" height="24"/><rect class="b" y="24" width="139" height="45"/><path class="s" d="M0,46h139M30,46v23M110,46v23"/><text class="c" x="69.5" y="16.5">lab</text><text x="4" y="39">...</text><text x="4" y="62">&lt; 3</text><text class="e" x="106" y="62">1,488 rows</text><text class="e" x="135" y="62">3 &gt;</text></g>
<g id="company" transform="translate(620,6985)"><rect class="h" width="128" height="24"/><rect class="b" y="24" width="128" height="45"/><path class="s" d="M0,46h128M31,46v23M100,46v23"/><text class="c" x="64" y="16.5">company</text><text x="4" y="39">...</text><text x="4" y="62">&lt; 3</text><text class="e" x="96" y="62">243 rows</text><text class="e" x="124" y="62">1 &gt;</text></g>
<g id="feature_dna_mutation_detail" transform="translate(961,153)"><rect class="h" width="217" height="24"/><rect class="b" y="24" width="217" height="45"/><path class="s" d="M0,46h217M64,46v23M153,46v23"/><text class="c" x="108.5" y="16.5">feature_dna_mutation_detail</text><text x="4" y="39">...</text><text x="4" y="62">&lt; 4</text><text class="e" x="149" y="62">40,544 rows</text></g>
<g id="feature_genomic_mutation_detail" transform="translate(951,250)"><rect class="h" width="239" height="24"/><rect class="b" y="24" width="239" height="45"/><path class="s" d="M0,46h239M75,46v23M164,46v23"/><text class="c" x="119.5" y="16.5">feature_genomic_mutation_detail</text><text x="4" y="39">...</text><text x="4" y="62">&lt; 2</text><text class="e" x="160" y="62">39,410 rows</text></g>
<g id="feature_marker_relationship" transform="translate(962,348)"><rect class="h" width="215" height="24"/><rect class="b" y="24" width="215" height="45"/><path class="s" d="M0,46h215M63,46v23M152,46v23"/><text class="c" x="107.5" y="16.5">feature_marker_relationship</text><text x="4" y="39">...</text><text x="4" y="62">&lt; 4</text><text class="e" x="148" y="62">83,139 rows</text></g>
<g id="feature_history" transform="translate(991,445)"><rect class="h" width="158" height="24"/><rect class="b" y="24" width="158" height="45"/><path class="s" d="M0,46h158M35,46v23M123,46v23"/><text class="c" x="79" y="16.5">feature_history</text><text x="4" y="39">...</text><text x="4" y="62">&lt; 5</text><text class="e" x="119" y="62">72,712 rows</text></g>
<g id="feature_protein_mutation_detail" transform="translate(958,542)"><rect class="h" width="223" height="24"/><rect class="b" y="24" width="223" height="45"/><path class="s" d="M0,46h223M71,46v23M152,46v23"/><text class="c" x="111.5" y="16.5">feature_protein_mutation_detail</text><text x="4" y="39">...</text><text x="4" y="62">&lt; 4</text><text class="e" x="148" y="62">2,249 rows</text></g>
<g id="feature_transcript_mutation_detail" transform="translate(949,640)"><rect class="h" width="242" height="24"/><rect class="b" y="24" width="242" height="45"/><path class="s" d="M0,46h242M77,46v23M165,46v23"/><text class="c" x="121" y="16.5">feature_transcript_mutation_detail</text><text x="4" y="39">...</text><text x="4" y="62">&lt; 3</text><text class="e" x="161" y="62">38,191 rows</text></g>
<g id="probe_library" transform="translate(1002,877)"><rect class="h" width="134" height="24"/><rect class="b" y="24" width="134" height="45"/><path class="s" d="M0,46h134M33,46v23M102,46v23"/><text class="c" x="67" y="16.5">probe_library</text><text x="4" y="39">...</text><text x="4" y="62">&lt; 5</text><text class="e" x="98" y="62">103 rows</text></g>
<g id="sequence_feature_chromosome_location" transform="translate(931,1109)"><rect class="h" width="278" height="24"/><rect class="b" y="24" width="278" height="45"/><path class="s" d="M0,46h278M91,46v23M187,46v23"/><text class="c" x="139" y="16.5">sequence_feature_chromosome_location</text><text x="4" y="39">...</text><text x="4" y="62">&lt; 4</text><text class="e" x="183" y="62">113,394 rows</text></g>
<g id="fish" transform="translate(996,1220)"><rect class="h" width="148" height="24"/><rect class="b" y="24" width="148" height="45"/><path class="s" d="M0,46h148M30,46v23M119,46v23"/><text class="c" x="74" y="16.5">fish</text><text x="4" y="39">...</text><text x="4" y="62">&lt; 2</text><text class="e" x="115" y="62">45,731 rows</text><text class="e" x="144" y="62">4 &gt;</text></g>
<g id="genotype_feature" transform="translate(984,1336)"><rect class="h" width="172" height="24"/><rect class="b" y="24" width="172" height="45"/><path class="s" d="M0,46h172M42,46v23M130,46v23"/><text class="c" x="86" y="16.5">genotype_feature</text><text x="4" y="39">...</text><text x="4" y="62">&lt; 6</text><text class="e" x="126" y="62">40,662 rows</text></g>
<g id="apato_infrastructure" transform="translate(979,1578)"><rect class="h" width="182" height="24"/><rect class="b" y="24" width="182" height="45"/><path class="s" d="M0,46h182M47,46v23M135,46v23"/><text class="c" x="91" y="16.5">apato_infrastructure</text><text x="4" y="39">...</text><text x="4" y="62">&lt; 7</text><text class="e" x="131" y="62">67,459 rows</text></g>
<g id="feature_community_contribution" transform="translate(961,2000)"><rect class="h" width="218" height="24"/><rect class="b" y="24" width="218" height="45"/><path class="s" d="M0,46h218M73,46v23M145,46v23"/><text class="c" x="109" y="16.5">feature_community_contribution</text><text x="4" y="39">...</text><text x="4" y="62">&lt; 2</text><text class="e" x="141" y="62">11 rows</text></g>
<g id="disease_annotation" transform="translate(984,2437)"><rect class="h" width="172" height="24"/><rect class="b" y="24" width="172" height="45"/><path class="s" d="M0,46h172M46,46v23M126,46v23"/><text class="c" x="86" y="16.5">disease_annotation</text><text x="4" y="39">...</text><text x="4" y="62">&lt; 4</text><text class="e" x="122" y="62">3,241 rows</text><text class="e" x="168" y="62">1 &gt;</text></g>
<g id="term_relationship" transform="translate(981,2534)"><rect class="h" width="177" height="24"/><rect class="b" y="24" width="177" height="45"/><path class="s" d="M0,46h177M40,46v23M137,46v23"/><text class="c" x="88.5" y="16.5">term_relationship</text><text x="4" y="39">...</text><text x="4" y="62">&lt; 4</text><text class="e" x="133" y="62">486,868 rows</text></g>
<g id="experiment_condition" transform="translate(976,2631)"><rect class="h" width="188" height="24"/><rect class="b" y="24" width="188" height="45"/><path class="s" d="M0,46h188M50,46v23M138,46v23"/><text class="c" x="94" y="16.5">experiment_condition</text><text x="4" y="39">...</text><text x="4" y="62">&lt; 7</text><text class="e" x="134" y="62">22,684 rows</text></g>
<g id="marker_history" transform="translate(987,3241)"><rect class="h" width="166" height="24"/><rect class="b" y="24" width="166" height="45"/><path class="s" d="M0,46h166M35,46v23M131,46v23"/><text class="c" x="83" y="16.5">marker_history</text><text x="4" y="39">...</text><text x="4" y="62">&lt; 5</text><text class="e" x="127" y="62">230,854 rows</text></g>
<g id="expression_pattern_infrastructure" transform="translate(955,3338)"><rect class="h" width="230" height="24"/><rect class="b" y="24" width="230" height="45"/><path class="s" d="M0,46h230M75,46v23M155,46v23"/><text class="c" x="115" y="16.5">expression_pattern_infrastructure</text><text x="4" y="39">...</text><text x="4" y="62">&lt; 5</text><text class="e" x="151" y="62">2,329 rows</text></g>
<g id="linkage_single" transform="translate(992,3462)"><rect class="h" width="156" height="24"/><rect class="b" y="24" width="156" height="45"/><path class="s" d="M0,46h156M34,46v23M122,46v23"/><text class="c" x="78" y="16.5">linkage_single</text><text x="4" y="39">...</text><text x="4" y="62">&lt; 2</text><text class="e" x="118" y="62">16,166 rows</text></g>
<g id="marker_go_term_evidence" transform="translate(961,3957)"><rect class="h" width="218" height="24"/><rect class="b" y="24" width="218" height="45"/><path class="s" d="M0,46h218M61,46v23M157,46v23"/><text class="c" x="109" y="16.5">marker_go_term_evidence</text><text x="4" y="39">...</text><text x="4" y="62">&lt; 10</text><text class="e" x="153" y="62">306,026 rows</text><text class="e" x="214" y="62">3 &gt;</text></g>
<g id="ortholog" transform="translate(996,4125)"><rect class="h" width="148" height="24"/><rect class="b" y="24" width="148" height="45"/><path class="s" d="M0,46h148M30,46v23M119,46v23"/><text class="c" x="74" y="16.5">ortholog</text><text x="4" y="39">...</text><text x="4" y="62">&lt; 2</text><text class="e" x="115" y="62">31,744 rows</text><text class="e" x="144" y="62">3 &gt;</text></g>
<g id="htp_dataset_publication" transform="translate(985,4222)"><rect class="h" width="168" height="24"/><rect class="b" y="24" width="168" height="45"/><path class="s" d="M0,46h168M54,46v23M115,46v23"/><text class="c" x="84" y="16.5">htp_dataset_publication</text><text x="4" y="39">...</text><text x="4" y="62">&lt; 2</text><text class="e" x="111" y="62">14 rows</text></g>
<g id="marker_relationship" transform="translate(976,4320)"><rect class="h" width="188" height="24"/><rect class="b" y="24" width="188" height="45"/><path class="s" d="M0,46h188M46,46v23M142,46v23"/><text class="c" x="94" y="16.5">marker_relationship</text><text x="4" y="39">...</text><text x="4" y="62">&lt; 4</text><text class="e" x="138" y="62">199,601 rows</text></g>
<g id="construct_component" transform="translate(976,4417)"><rect class="h" width="188" height="24"/><rect class="b" y="24" width="188" height="45"/><path class="s" d="M0,46h188M50,46v23M138,46v23"/><text class="c" x="94" y="16.5">construct_component</text><text x="4" y="39">...</text><text x="4" y="62">&lt; 2</text><text class="e" x="134" y="62">63,725 rows</text></g>
<g id="image" transform="translate(992,4514)"><rect class="h" width="156" height="24"/><rect class="b" y="24" width="156" height="45"/><path class="s" d="M0,46h156M30,46v23M126,46v23"/><text class="c" x="78" y="16.5">image</text><text x="4" y="39">...</text><text x="4" y="62">&lt; 7</text><text class="e" x="122" y="62">132,299 rows</text><text class="e" x="152" y="62">3 &gt;</text></g>
<g id="construct_marker_relationship" transform="translate(957,4648)"><rect class="h" width="225" height="24"/><rect class="b" y="24" width="225" height="45"/><path class="s" d="M0,46h225M68,46v23M157,46v23"/><text class="c" x="112.5" y="16.5">construct_marker_relationship</text><text x="4" y="39">...</text><text x="4" y="62">&lt; 4</text><text class="e" x="153" y="62">21,638 rows</text></g>
<g id="curation" transform="translate(996,4781)"><rect class="h" width="147" height="24"/><rect class="b" y="24" width="147" height="45"/><path class="s" d="M0,46h147M31,46v23M127,46v23"/><text class="c" x="73.5" y="16.5">curation</text><text x="4" y="39">...</text><text x="4" y="62">&lt; 4</text><text class="e" x="123" y="62">516,594 rows</text></g>
<g id="publication_note" transform="translate(926,4880)"><rect class="b" width="286" height="161"/><rect class="h" width="286" height="23"/><rect class="k" y="23" width="166" height="23"/><rect class="x" y="46" width="166" height="46"/><path class="s" d="M0,46h286M0,69h286M0,92h286M0,115h286M0,138h286M166,23v115M78,138v23M166,138v23"/><rect width="286" height="161" fill="none" stroke="#000" stroke-width="3"/><text class="c" x="143" y="16">publication_note</text><text x="4" y="39.5">pnote_zdb_id</text><text x="170" y="39.5">text[2147483647]</text><text x="4" y="62.5">pnote_pub_zdb_id</text><text x="170" y="62.5">text[2147483647]</text><text x="4" y="85.5">pnote_curator_zdb_id</text><text x="170" y="85.5">text[2147483647]</text><text x="4" y="108.5">pnote_date</text><text x="170" y="108.5">timestamp[29,6]</text><text x="4" y="131.5">pnote_text</text><text x="170" y="131.5">text[2147483647]</text><text x="4" y="154.5">&lt; 3</text><text class="e" x="162" y="154.5">39,624 rows</text><text class="e" x="281" y="154.5">0 &gt;</text></g>
<g id="run" transform="translate(1009,5072)"><rect class="h" width="120" height="24"/><rect class="b" y="24" width="120" height="45"/><path class="s" d="M0,46h120M30,46v23M90,46v23"/><text class="c" x="60" y="16.5">run</text><text x="4" y="39">...</text><text x="4" y="62">&lt; 5</text><text class="e" x="86" y="62">12 rows</text><text class="e" x="116" y="62">2 &gt;</text></g>
<g id="pubmed_publication_author" transform="translate(959,5205)"><rect class="h" width="222" height="24"/><rect class="b" y="24" width="222" height="45"/><path class="s" d="M0,46h222M63,46v23M159,46v23"/><text class="c" x="111" y="16.5">pubmed_publication_author</text><text x="4" y="39">...</text><text x="4" y="62">&lt; 1</text><text class="e" x="155" y="62">234,577 rows</text></g>
<g id="author_publication" transform="translate(1000,5374)"><rect class="h" width="139" height="24"/><rect class="b" y="24" width="139" height="45"/><path class="s" d="M0,46h139M43,46v23M96,46v23"/><text class="c" x="69.5" y="16.5">author_publication</text><text x="4" y="39">...</text><text x="4" y="62">&lt; 2</text><text class="e" x="92" y="62">0 rows</text></g>
<g id="doi_attempts" transform="translate(999,5471)"><rect class="h" width="142" height="24"/><rect class="b" y="24" width="142" height="45"/><path class="s" d="M0,46h142M31,46v23M112,46v23"/><text class="c" x="71" y="16.5">doi_attempts</text><text x="4" y="39">...</text><text x="4" y="62">&lt; 1</text><text class="e" x="108" y="62">3,475 rows</text></g>
<g id="mesh_heading" transform="translate(987,5568)"><rect class="h" width="166" height="24"/><rect class="b" y="24" width="166" height="45"/><path class="s" d="M0,46h166M35,46v23M131,46v23"/><text class="c" x="83" y="16.5">mesh_heading</text><text x="4" y="39">...</text><text x="4" y="62">&lt; 2</text><text class="e" x="127" y="62">478,408 rows</text><text class="e" x="162" y="62">1 &gt;</text></g>
<g id="pub_db_xref" transform="translate(999,5666)"><rect class="h" width="142" height="24"/><rect class="b" y="24" width="142" height="45"/><path class="s" d="M0,46h142M31,46v23M112,46v23"/><text class="c" x="71" y="16.5">pub_db_xref</text><text x="4" y="39">...</text><text x="4" y="62">&lt; 2</text><text class="e" x="108" y="62">1,355 rows</text></g>
<g id="publication_file" transform="translate(991,5764)"><rect class="h" width="158" height="24"/><rect class="b" y="24" width="158" height="45"/><path class="s" d="M0,46h158M35,46v23M123,46v23"/><text class="c" x="79" y="16.5">publication_file</text><text x="4" y="39">...</text><text x="4" y="62">&lt; 2</text><text class="e" x="119" y="62">53,443 rows</text></g>
<g id="pub_tracking_history" transform="translate(973,5860)"><rect class="h" width="193" height="24"/><rect class="b" y="24" width="193" height="45"/><path class="s" d="M0,46h193M48,46v23M145,46v23"/><text class="c" x="96.5" y="16.5">pub_tracking_history</text><text x="4" y="39">...</text><text x="4" y="62">&lt; 5</text><text class="e" x="141" y="62">161,431 rows</text></g>
<g id="publication_contact_tracking" transform="translate(973,5958)"><rect class="h" width="193" height="24"/><rect class="b" y="24" width="193" height="45"/><path class="s" d="M0,46h193M64,46v23M129,46v23"/><text class="c" x="96.5" y="16.5">publication_contact_tracking</text><text x="4" y="39">...</text><text x="4" y="62">&lt; 2</text><text class="e" x="125" y="62">0 rows</text></g>
<g id="publication_correspondence" transform="translate(972,6056)"><rect class="h" width="194" height="24"/><rect class="b" y="24" width="194" height="45"/><path class="s" d="M0,46h194M63,46v23M131,46v23"/><text class="c" x="97" y="16.5">publication_correspondence</text><text x="4" y="39">...</text><text x="4" y="62">&lt; 2</text><text class="e" x="127" y="62">651 rows</text></g>
<g id="publication_processing_checklist" transform="translate(954,6152)"><rect class="h" width="232" height="24"/><rect class="b" y="24" width="232" height="45"/><path class="s" d="M0,46h232M72,46v23M160,46v23"/><text class="c" x="116" y="16.5">publication_processing_checklist</text><text x="4" y="39">...</text><text x="4" y="62">&lt; 3</text><text class="e" x="156" y="62">17,991 rows</text></g>
<g id="zebrashare_data_edit_permission" transform="translate(954,6250)"><rect class="h" width="231" height="24"/><rect class="b" y="24" width="231" height="45"/><path class="s" d="M0,46h231M77,46v23M154,46v23"/><text class="c" x="115.5" y="16.5">zebrashare_data_edit_permission</text><text x="4" y="39">...</text><text x="4" y="62">&lt; 2</text><text class="e" x="150" y="62">28 rows</text></g>
<g id="int_person_pub" transform="translate(989,6348)"><rect class="h" width="161" height="24"/><rect class="b" y="24" width="161" height="45"/><path class="s" d="M0,46h161M36,46v23M125,46v23"/><text class="c" x="80.5" y="16.5">int_person_pub</text><text x="4" y="39">...</text><text x="4" y="62">&lt; 2</text><text class="e" x="121" y="62">59,498 rows</text></g>
<g id="pub_correspondence_received_email" transform="translate(945,6445)"><rect class="h" width="250" height="24"/><rect class="b" y="24" width="250" height="45"/><path class="s" d="M0,46h250M83,46v23M167,46v23"/><text class="c" x="125" y="16.5">pub_correspondence_received_email</text><text x="4" y="39">...</text><text x="4" y="62">&lt; 2</text><text class="e" x="163" y="62">4,051 rows</text></g>
<g id="zebrashare_submission_metadata" transform="translate(954,6542)"><rect class="h" width="231" height="24"/><rect class="b" y="24" width="231" height="45"/><path class="s" d="M0,46h231M77,46v23M154,46v23"/><text class="c" x="115.5" y="16.5">zebrashare_submission_metadata</text><text x="4" y="39">...</text><text x="4" y="62">&lt; 3</text><text class="e" x="150" y="62">6 rows</text></g>
<g id="pub_correspondence_sent_email" transform="translate(954,6690)"><rect class="h" width="231" height="24"/><rect class="b" y="24" width="231" height="45"/><path class="s" d="M0,46h231M75,46v23M156,46v23"/><text class="c" x="115.5" y="16.5">pub_correspondence_sent_email</text><text x="4" y="39">...</text><text x="4" y="62">&lt; 2</text><text class="e" x="152" y="62">5,255 rows</text><text class="e" x="227" y="62">2 &gt;</text></g>
<g id="int_person_lab" transform="translate(995,6801)"><rect class="h" width="150" height="24"/><rect class="b" y="24" width="150" height="45"/><path class="s" d="M0,46h150M35,46v23M115,46v23"/><text class="c" x="75" y="16.5">int_person_lab</text><text x="4" y="39">...</text><text x="4" y="62">&lt; 3</text><text class="e" x="111" y="62">5,868 rows</text></g>
<g id="int_person_company" transform="translate(987,6968)"><rect class="h" width="165" height="24"/><rect class="b" y="24" width="165" height="45"/><path class="s" d="M0,46h165M48,46v23M117,46v23"/><text class="c" x="82.5" y="16.5">int_person_company</text><text x="4" y="39">...</text><text x="4" y="62">&lt; 3</text><text class="e" x="113" y="62">162 rows</text></g>
<g id="mutant_fast_search" transform="translate(1607,1450)"><rect class="h" width="179" height="24"/><rect class="b" y="24" width="179" height="45"/><path class="s" d="M0,46h179M45,46v23M134,46v23"/><text class="c" x="89.5" y="16.5">mutant_fast_search</text><text x="4" y="39">...</text><text x="4" y="62">&lt; 2</text><text class="e" x="130" y="62">63,804 rows</text></g>
<g id="fish_experiment" transform="translate(1321,2815)"><rect class="h" width="164" height="24"/><rect class="b" y="24" width="164" height="45"/><path class="s" d="M0,46h164M38,46v23M126,46v23"/><text class="c" x="82" y="16.5">fish_experiment</text><text x="4" y="39">...</text><text x="4" y="62">&lt; 3</text><text class="e" x="122" y="62">55,377 rows</text><text class="e" x="160" y="62">5 &gt;</text></g>
<g id="expression_experiment2" transform="translate(1592,4217)"><rect class="h" width="209" height="24"/><rect class="b" y="24" width="209" height="45"/><path class="s" d="M0,46h209M56,46v23M153,46v23"/><text class="c" x="104.5" y="16.5">expression_experiment2</text><text x="4" y="39">...</text><text x="4" y="62">&lt; 8</text><text class="e" x="149" y="62">159,244 rows</text><text class="e" x="205" y="62">1 &gt;</text></g>
<g id="ortholog_evidence" transform="translate(1316,4960)"><rect class="h" width="174" height="24"/><rect class="b" y="24" width="174" height="45"/><path class="s" d="M0,46h174M43,46v23M131,46v23"/><text class="c" x="87" y="16.5">ortholog_evidence</text><text x="4" y="39">...</text><text x="4" y="62">&lt; 3</text><text class="e" x="127" y="62">73,786 rows</text></g>
<g id="pub_correspondence_sent_tracker" transform="translate(1281,6607)"><rect class="h" width="245" height="24"/><rect class="b" y="24" width="245" height="45"/><path class="s" d="M0,46h245M78,46v23M167,46v23"/><text class="c" x="122.5" y="16.5">pub_correspondence_sent_tracker</text><text x="4" y="39">...</text><text x="4" y="62">&lt; 3</text><text class="e" x="163" y="62">13,175 rows</text></g>
<g id="pub_correspondence_recipient" transform="translate(1293,6793)"><rect class="h" width="220" height="24"/><rect class="b" y="24" width="220" height="45"/><path class="s" d="M0,46h220M70,46v23M150,46v23"/><text class="c" x="110" y="16.5">pub_correspondence_recipient</text><text x="4" y="39">...</text><text x="4" y="62">&lt; 2</text><text class="e" x="146" y="62">5,440 rows</text></g>
<g id="zdb_active_source" transform="translate(17,4780)"><rect class="h" width="175" height="24"/><rect class="b" y="24" width="175" height="45"/><path class="s" d="M0,46h175M44,46v23M132,46v23"/><text class="c" x="87.5" y="16.5">zdb_active_source</text><text x="4" y="39">...</text><text class="e" x="128" y="62">64,600 rows</text><text class="e" x="171" y="62">16 &gt;</text></g>
<g id="journal" transform="translate(281,5268)"><rect class="h" width="140" height="24"/><rect class="b" y="24" width="140" height="45"/><path class="s" d="M0,46h140M31,46v23M111,46v23"/><text class="c" x="70" y="16.5">journal</text><text x="4" y="39">...</text><text x="4" y="62">&lt; 1</text><text class="e" x="107" y="62">2,938 rows</text><text class="e" x="136" y="62">1 &gt;</text></g>
<g id="zdb_active_data" transform="translate(257,2485)"><rect class="h" width="187" height="24"/><rect class="k" y="24" width="187" height="22.5"/><rect class="b" y="46.5" width="187" height="22.5"/><path class="s" d="M40,46.5v22.5M148,46.5v22.5"/><text class="c" x="93.5" y="16.5">zdb_active_data</text><text x="4" y="40">zactvd_zdb_id</text><text class="e" x="144" y="63">5,430,580 rows</text><text class="e" x="183" y="63">80 &gt;</text></g>
<g id="person" transform="translate(268,6179)"><rect class="h" width="167" height="24"/><rect class="b" y="24" width="167" height="499.4"/><rect class="k" y="46.7" width="167" height="22.7"/><rect class="x" y="182.9" width="167" height="22.7"/><path class="s" d="M0,46.7h167M0,69.4h167M0,92.1h167M0,114.8h167M0,137.5h167M0,160.2h167M0,182.9h167M0,205.6h167M0,228.3h167M0,251h167M0,273.7h167M0,296.4h167M0,319.1h167M0,341.8h167M0,364.5h167M0,387.2h167M0,409.9h167M0,432.6h167M0,455.3h167M0,478h167M0,500.7h167M44,500.7v22.7M124,500.7v22.7"/><text class="c" x="83.5" y="16.5">person</text><text x="4" y="40">owner</text><text x="4" y="62.7">zdb_id</text><text x="4" y="85.4">nonzf_pubs</text><text x="4" y="108.1">pers_bio</text><text x="4" y="130.8">nicknames</text><text x="4" y="153.5">full_name</text><text x="4" y="176.2">url</text><text x="4" y="198.9">email</text><text x="4" y="221.6">fax</text><text x="4" y="244.3">phone</text><text x="4" y="267">address</text><text x="4" y="289.7">name</text><text x="4" y="312.4">entry_time</text><text x="4" y="335.1">on_dist_list</text><text x="4" y="357.8">first_name</text><text x="4" y="380.5">last_name</text><text x="4" y="403.2">orcid_id</text><text x="4" y="425.9">pers_is_deceased</text><text x="4" y="448.6">person_country</text><text x="4" y="471.3">image</text><text x="4" y="494">pers_is_hidden</text><text x="4" y="516.7">&lt; 1</text><text class="e" x="120" y="516.7">9,587 rows</text><text class="e" x="163" y="516.7">37 &gt;</text></g>
<g id="publication" transform="translate(569,5337)"><rect class="h" width="231" height="24"/><rect class="b" y="24" width="231" height="703.7"/><rect class="k" y="24" width="231" height="22.7"/><rect class="x" y="341.8" width="231" height="22.7"/><path class="s" d="M0,46.7h231M0,69.4h231M0,92.1h231M0,114.8h231M0,137.5h231M0,160.2h231M0,182.9h231M0,205.6h231M0,228.3h231M0,251h231M0,273.7h231M0,296.4h231M0,319.1h231M0,341.8h231M0,364.5h231M0,387.2h231M0,409.9h231M0,432.6h231M0,455.3h231M0,478h231M0,500.7h231M0,523.4h231M0,546.1h231M0,568.8h231M0,591.5h231M0,614.2h231M0,636.9h231M0,659.6h231M0,682.3h231M0,705h231M71,705v22.7M160,705v22.7"/><text class="c" x="115.5" y="16.5">publication</text><text x="4" y="40">zdb_id</text><text x="4" y="62.7">authors</text><text x="4" y="85.4">pub_date</text><text x="4" y="108.1">title</text><text x="4" y="130.8">keywords</text><text x="4" y="153.5">pub_errata_and_notes</text><text x="4" y="176.2">accession_no</text><text x="4" y="198.9">status</text><text x="4" y="221.6">owner</text><text x="4" y="244.3">pubmed_authors</text><text x="4" y="267">jtype</text><text x="4" y="289.7">pub_mini_ref</text><text x="4" y="312.4">pub_arrival_date</text><text x="4" y="335.1">pub_completion_date</text><text x="4" y="357.8">pub_jrnl_zdb_id</text><text x="4" y="380.5">pub_can_show_images</text><text x="4" y="403.2">pub_authors_lower</text><text x="4" y="425.9">pub_volume</text><text x="4" y="448.6">pub_pages</text><text x="4" y="471.3">pub_acknowledgment</text><text x="4" y="494">pub_doi</text><text x="4" y="516.7">pub_is_indexed</text><text x="4" y="539.4">pub_indexed_date</text><text x="4" y="562.1">pub_abstract</text><text x="4" y="584.8">pub_last_correspondence_date</text><text x="4" y="607.5">pub_indexed_by</text><text x="4" y="630.2">pub_is_curatable</text><text x="4" y="652.9">pub_pmc_id</text><text x="4" y="675.6">pub_mid</text><text x="4" y="698.3">pub_goref_id</text><text x="4" y="721">&lt; 3</text><text class="e" x="156" y="721">46,550 rows</text><text class="e" x="227" y="721">24 &gt;</text></g>
</g>
<text x="17" y="7094">Generated by SchemaSpy</text>
</svg>
